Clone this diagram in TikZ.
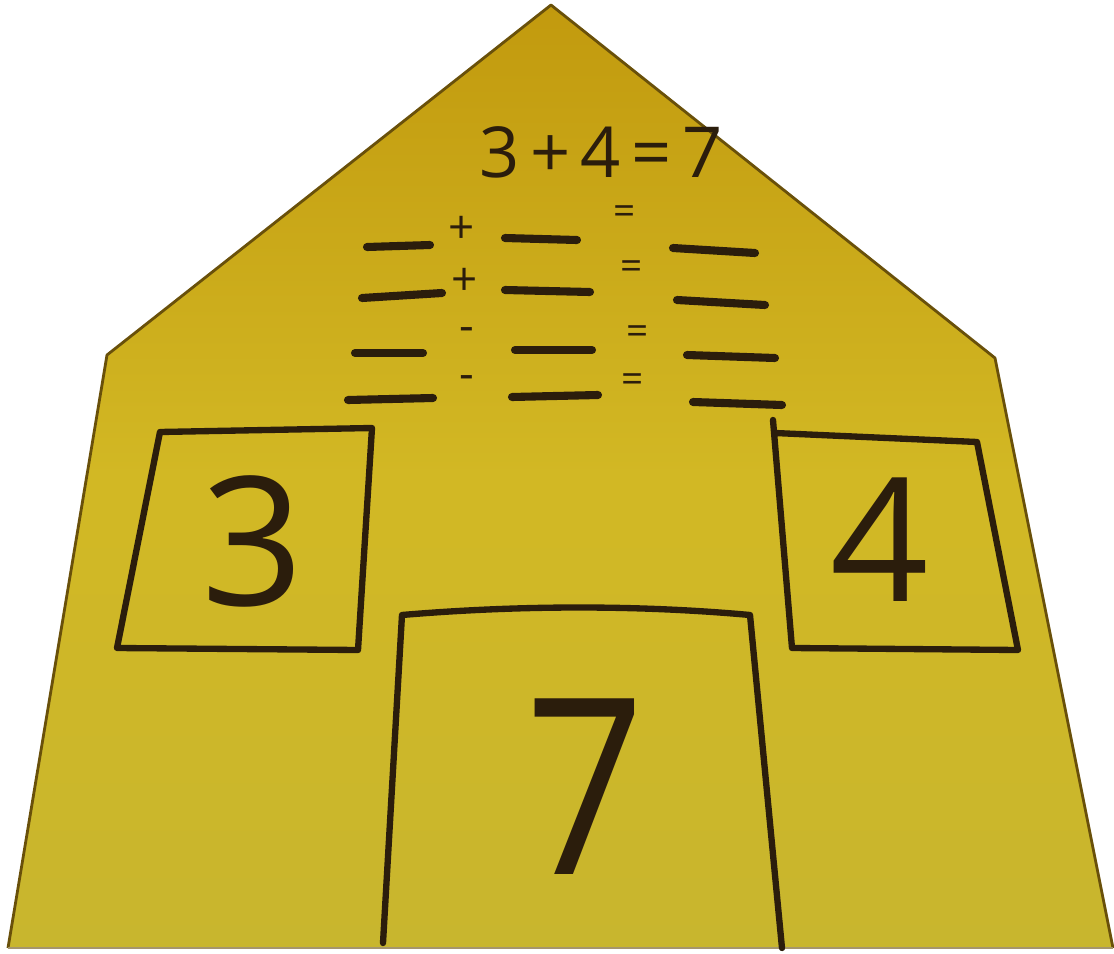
\documentclass[tikz,border=0pt]{standalone}
\usepackage{fontspec}
\setmainfont{Open Sans}
\definecolor{ink}{HTML}{2B1D0C}
\definecolor{paperTop}{RGB}{194,154,14}
\definecolor{paperMid}{RGB}{210,184,36}
\definecolor{paperBot}{RGB}{200,182,46}
\definecolor{paperEdge}{RGB}{105,80,10}
\begin{document}
\begin{tikzpicture}[x=0.01cm,y=-0.01cm,
  boxline/.style={draw=ink, line width=1.8pt, line cap=round, line join=round},
  blank/.style={draw=ink, line width=2.3pt, line cap=round},
  sym/.style={text=ink, inner sep=0pt},
  bigdigit/.style={text=ink, inner sep=0pt}]
\useasboundingbox (0,0) rectangle (1114,954);
\fill[white] (0,0) rectangle (1114,954);
% house-shaped card
\shade[top color=paperTop, bottom color=paperBot, middle color=paperMid]
  (551,5) -- (995,358) -- (1113,948) -- (8,948) -- (107,355) -- cycle;
\draw[paperEdge, line width=0.8pt, line join=round]
  (8,948) -- (107,355) -- (551,5) -- (995,358) -- (1113,948);
\draw[paperEdge!60, line width=0.6pt] (8,948) -- (1113,948);

% equation
\node[sym, font=\fontsize{20}{20}\selectfont] (eq) at (601,152)
  {3\hspace{3pt}+\hspace{3pt}4\hspace{3pt}=\hspace{3pt}7};

% blanks, row 1
\draw[blank] (367,247) -- (430,245);
\node[sym, font=\fontsize{13}{13}\selectfont] (p1) at (462,230) {+};
\draw[blank] (505,238) -- (577,240);
\node[sym, font=\fontsize{11}{11}\selectfont] (e1) at (625,215) {=};
\draw[blank] (673,248) -- (755,253);
% row 2
\draw[blank] (362,298) -- (442,293);
\node[sym, font=\fontsize{13}{13}\selectfont] (p2) at (465,282) {+};
\draw[blank] (505,290) -- (590,292);
\node[sym, font=\fontsize{11}{11}\selectfont] (e2) at (632,270) {=};
\draw[blank] (677,300) -- (765,305);
% row 3
\draw[blank] (355,353) -- (423,353);
\node[sym, font=\fontsize{13}{13}\selectfont] (m1) at (467,335) {-};
\draw[blank] (515,350) -- (592,350);
\node[sym, font=\fontsize{11}{11}\selectfont] (e3) at (638,335) {=};
\draw[blank] (687,355) -- (775,358);
% row 4
\draw[blank] (348,400) -- (433,398);
\node[sym, font=\fontsize{13}{13}\selectfont] (m2) at (467,383) {-};
\draw[blank] (512,397) -- (598,395);
\node[sym, font=\fontsize{11}{11}\selectfont] (e4) at (633,383) {=};
\draw[blank] (693,402) -- (782,405);

% box 3
\draw[boxline] (160,432) -- (372,428) -- (358,650) -- (117,648) -- cycle;
\node[bigdigit, font=\fontsize{51}{51}\selectfont] (three) at (253,541) {3};
% box 4
\draw[boxline] (773,420) -- (792,648) -- (1018,650) -- (977,442) -- (775,433);
\node[bigdigit, font=\fontsize{49}{49}\selectfont] (four) at (880,540) {4};
% box 7
\draw[boxline] (383,943) -- (402,615) .. controls (520,605) and (640,605) .. (750,615) -- (782,948);
\node[bigdigit, font=\fontsize{70}{70}\selectfont, xscale=0.85] (seven) at (585,787) {7};
\end{tikzpicture}
\end{document}
